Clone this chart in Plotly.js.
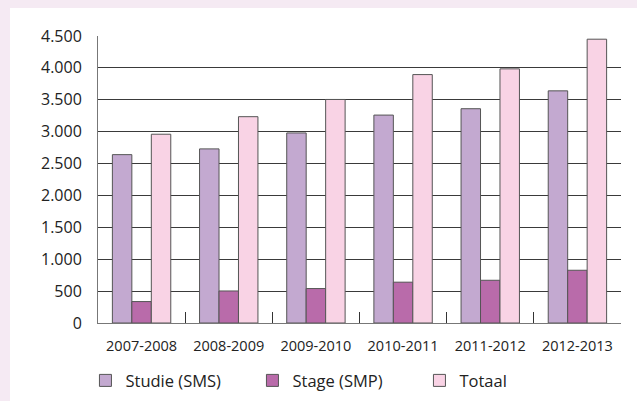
<!DOCTYPE html>
<html><head><meta charset="utf-8">
<script src="https://cdn.plot.ly/plotly-3.0.1.min.js"></script>
<style>
html,body{margin:0;padding:0;background:#F5EAF3;width:637px;height:401px;overflow:hidden}
#chart{position:absolute;left:10px;top:8px;width:627px;height:393px;background:#fff}
</style></head>
<body><div id="chart"></div>
<script>
const categories = ["2007-2008","2008-2009","2009-2010","2010-2011","2011-2012","2012-2013"];
const studie = [2640, 2730, 2980, 3260, 3360, 3640];
const stage = [336, 502, 540, 640, 670, 827];
const totaal = [2960, 3235, 3505, 3895, 3985, 4450];
const yTicks = [0,500,1000,1500,2000,2500,3000,3500,4000,4500];

const line = {color:'#555555', width:1};
const traces = [
  {type:'bar', name:'Studie (SMS)', x:categories, y:studie, marker:{color:'#C3A9D0', line:line}},
  {type:'bar', name:'Stage (SMP)', x:categories, y:stage, marker:{color:'#B96BAA', line:line}},
  {type:'bar', name:'Totaal', x:categories, y:totaal, marker:{color:'#F9D3E5', line:line}}
];
const fam = '"Open Sans", sans-serif';
const layout = {
  width:627, height:393,
  margin:{l:88, r:16, t:28, b:78, autoexpand:false},
  paper_bgcolor:'#ffffff', plot_bgcolor:'#ffffff',
  separators:',.',
  font:{family:fam, color:'#222', size:14},
  barmode:'group', bargap:0.33, bargroupgap:0,
  showlegend:true,
  legend:{orientation:'h', x:-0.024, xanchor:'left', y:-0.14, yanchor:'top',
    font:{size:16.5, family:fam, color:'#222'}, traceorder:'normal', itemwidth:30,
    entrywidth:122, entrywidthmode:'pixels'},
  xaxis:{type:'category', showgrid:false, showline:true, linecolor:'#777', linewidth:1,
    ticks:'inside', tickson:'boundaries', ticklen:11, tickcolor:'#333', tickwidth:1,
    tickfont:{size:14.5, family:fam, color:'#222'}, ticklabelstandoff:10, fixedrange:true},
  yaxis:{range:[0,4500], tickvals:yTicks, tickformat:',d', showgrid:true, gridcolor:'#3a3a3a', gridwidth:1,
    showline:true, linecolor:'#777', linewidth:1, ticks:'', zeroline:false,
    tickfont:{size:16, family:fam, color:'#222'}, ticklabelstandoff:12, fixedrange:true}
};
Plotly.newPlot('chart', traces, layout, {displayModeBar:false, staticPlot:true});
</script></body></html>
